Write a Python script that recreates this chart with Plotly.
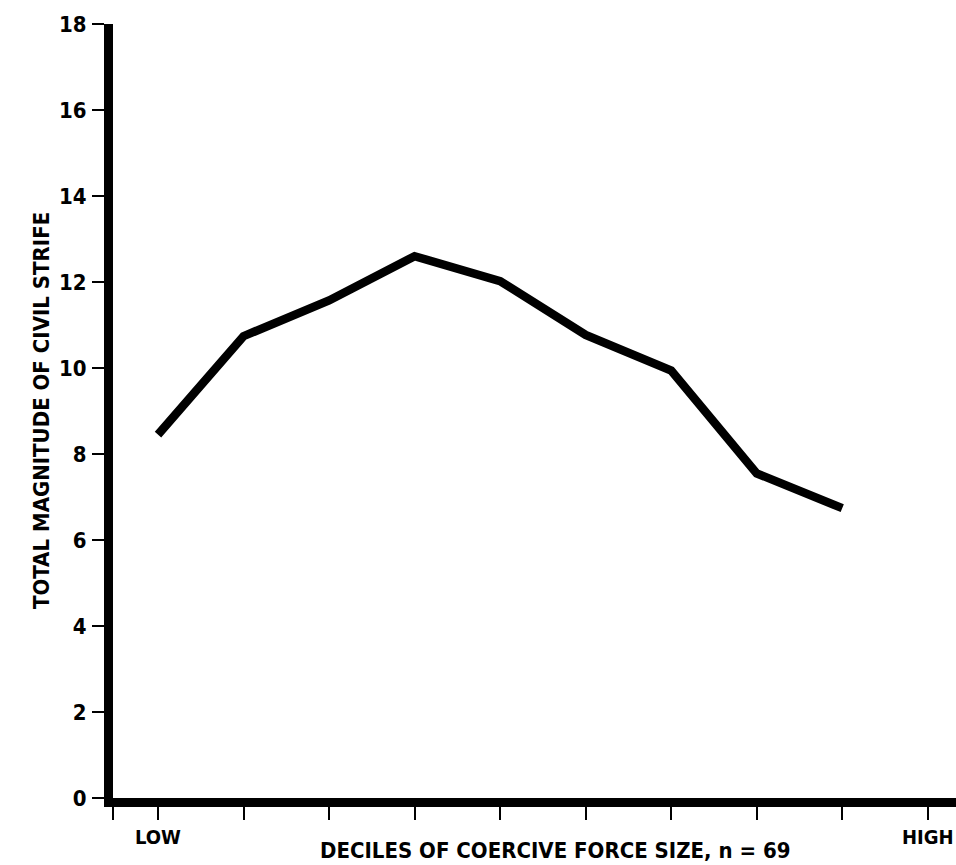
import plotly.graph_objects as go

deciles = [1, 2, 3, 4, 5, 6, 7, 8, 9]
strife = [8.45, 10.74, 11.57, 12.6, 12.02, 10.77, 9.94, 7.55, 6.74]

x_tick_vals = [1, 2, 3, 4, 5, 6, 7, 8, 9, 10]
x_tick_text = ["LOW", "", "", "", "", "", "", "", "", "HIGH"]
y_tick_vals = [0, 2, 4, 6, 8, 10, 12, 14, 16, 18]

FONT = "DejaVu Sans Condensed, Liberation Sans Narrow, sans-serif"

W, H = 956, 865
L, R, T, B = 113, 0, 24, 865 - 798
x_range = [0.474, 10.33]

fig = go.Figure()
fig.add_trace(go.Scatter(
    x=deciles, y=strife, mode="lines",
    line=dict(color="black", width=8.5),
    hoverinfo="skip", showlegend=False,
))

fig.update_layout(
    width=W, height=H,
    margin=dict(l=L, r=R, t=T, b=B, pad=0),
    paper_bgcolor="white", plot_bgcolor="white",
    font=dict(family=FONT, color="black", size=22, weight="bold"),
    showlegend=False,
)

fig.update_xaxes(
    range=x_range, showgrid=False, zeroline=False,
    showline=True, linecolor="black", linewidth=9,
    ticks="outside", ticklen=13, tickwidth=2, tickcolor="black",
    tickvals=[x_range[0]] + x_tick_vals, ticktext=[""] + x_tick_text,
    tickfont=dict(family=FONT, size=20, color="black", weight="bold"),
    ticklabeloverflow="allow",
    fixedrange=True,
)
fig.update_yaxes(
    range=[0, 18], showgrid=False, zeroline=False,
    showline=True, linecolor="black", linewidth=9,
    ticks="outside", ticklen=12, tickwidth=2, tickcolor="black",
    tickvals=y_tick_vals, ticklabelstandoff=1,
    tickfont=dict(family=FONT, size=22, color="black", weight="bold"),
    fixedrange=True,
)

plot_w = W - L - R
plot_h = H - T - B
fig.add_annotation(
    text="TOTAL MAGNITUDE OF CIVIL STRIFE",
    xref="paper", yref="paper",
    x=(41 - L) / plot_w, y=0.5,
    xanchor="center", yanchor="middle", textangle=-90, showarrow=False,
    font=dict(family=FONT, size=22, color="black", weight="bold"),
)
fig.add_annotation(
    text="DECILES OF COERCIVE FORCE SIZE, n = 69",
    xref="paper", yref="paper",
    x=(555 - L) / plot_w, y=-(850 - 798) / plot_h,
    xanchor="center", yanchor="middle", showarrow=False,
    font=dict(family=FONT, size=22, color="black", weight="bold"),
)

fig.write_html(
    "out.html",
    config={"displayModeBar": False, "staticPlot": True},
    post_script="document.body.style.margin='0';document.body.style.overflow='hidden';",
)
